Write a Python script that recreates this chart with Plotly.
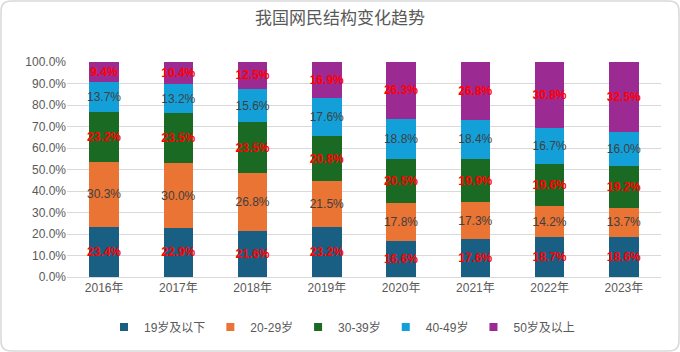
import plotly.graph_objects as go

years = ["2016年", "2017年", "2018年", "2019年", "2020年", "2021年", "2022年", "2023年"]
series_names = ["19岁及以下", "20-29岁", "30-39岁", "40-49岁", "50岁及以上"]
s19 = [23.4, 22.9, 21.6, 23.2, 16.6, 17.6, 18.7, 18.6]
s20 = [30.3, 30.0, 26.8, 21.5, 17.8, 17.3, 14.2, 13.7]
s30 = [23.2, 23.5, 23.5, 20.8, 20.5, 19.9, 19.6, 19.2]
s40 = [13.7, 13.2, 15.6, 17.6, 18.8, 18.4, 16.7, 16.0]
s50 = [9.4, 10.4, 12.5, 16.9, 26.3, 26.8, 30.8, 32.5]
tick_vals = [0, 10, 20, 30, 40, 50, 60, 70, 80, 90, 100]
tick_text = ["0.0%", "10.0%", "20.0%", "30.0%", "40.0%", "50.0%", "60.0%", "70.0%", "80.0%", "90.0%", "100.0%"]

colors = ["#185f83", "#ea7434", "#1b6a24", "#13a0d9", "#9c2a93"]
label_colors = ["#ff0000", "#404040", "#ff0000", "#404040", "#ff0000"]
label_bold = [True, False, True, False, True]

fig = go.Figure()
for name, vals, col, lc, bold in zip(series_names, [s19, s20, s30, s40, s50], colors, label_colors, label_bold):
    fig.add_trace(go.Bar(
        x=years, y=vals, name=name, showlegend=False,
        marker=dict(color=col, line=dict(width=0)),
        text=[f"{v:.1f}%" for v in vals],
        textposition="inside", insidetextanchor="middle", textangle=0,
        textfont=dict(color=lc, size=12, family="Liberation Sans, Arial, sans-serif",
                      weight="bold" if bold else "normal"),
        hoverinfo="skip",
    ))
# legend proxies with small square markers
for name, col in zip(series_names, colors):
    fig.add_trace(go.Scatter(x=[None], y=[None], mode="markers", name=name,
                             marker=dict(symbol="square", size=8, color=col),
                             showlegend=True, hoverinfo="skip"))

# rounded border around the whole figure (paper coords relative to plot area)
L, R, T, B = 67, 661, 62, 277
W, H = R - L, B - T
def px(x): return (x - L) / W
def py(y): return (B - y) / H
x0, x1, y0, y1, r = 1, 679, 1, 351, 10
path = (f"M {px(x0 + r)} {py(y0)} L {px(x1 - r)} {py(y0)} Q {px(x1)} {py(y0)} {px(x1)} {py(y0 + r)} "
        f"L {px(x1)} {py(y1 - r)} Q {px(x1)} {py(y1)} {px(x1 - r)} {py(y1)} "
        f"L {px(x0 + r)} {py(y1)} Q {px(x0)} {py(y1)} {px(x0)} {py(y1 - r)} "
        f"L {px(x0)} {py(y0 + r)} Q {px(x0)} {py(y0)} {px(x0 + r)} {py(y0)} Z")

fig.update_layout(
    width=680, height=352,
    margin=dict(l=L, r=680 - R, t=T, b=352 - B, autoexpand=False),
    barmode="stack", bargap=0.6,
    paper_bgcolor="white", plot_bgcolor="white",
    font=dict(family="Liberation Sans, Arial, Noto Sans CJK SC, sans-serif", color="#595959", size=12),
    title=dict(text="我国网民结构变化趋势", x=0.5, xref="container", xanchor="center",
               y=1 - 18 / 352, yref="container", yanchor="middle",
               font=dict(size=17, color="#595959", family="Noto Sans CJK SC, sans-serif")),
    uniformtext=dict(minsize=12, mode="show"),
    legend=dict(orientation="h", x=px(342), xanchor="center", xref="paper",
                y=py(327), yanchor="middle", yref="paper", itemwidth=30,
                font=dict(size=12, color="#595959",
                          family="Liberation Sans, Arial, Noto Sans CJK SC, sans-serif"),
                traceorder="normal"),
    shapes=[dict(type="path", path=path, xref="paper", yref="paper",
                 line=dict(color="#d9d9d9", width=1.5), fillcolor="rgba(0,0,0,0)", layer="below")],
)
fig.update_xaxes(showgrid=False, showline=True, linecolor="#d9d9d9", ticks="", tickangle=0,
                 tickfont=dict(size=12, color="#595959", family="Liberation Sans, Noto Sans CJK SC, sans-serif"))
fig.update_yaxes(range=[0, 100], tickvals=tick_vals, ticktext=tick_text, showgrid=True,
                 gridcolor="#d9d9d9", gridwidth=1, zeroline=False, showline=False, ticks="",
                 tickfont=dict(size=12, color="#595959"))

fig.write_html("out.html")
